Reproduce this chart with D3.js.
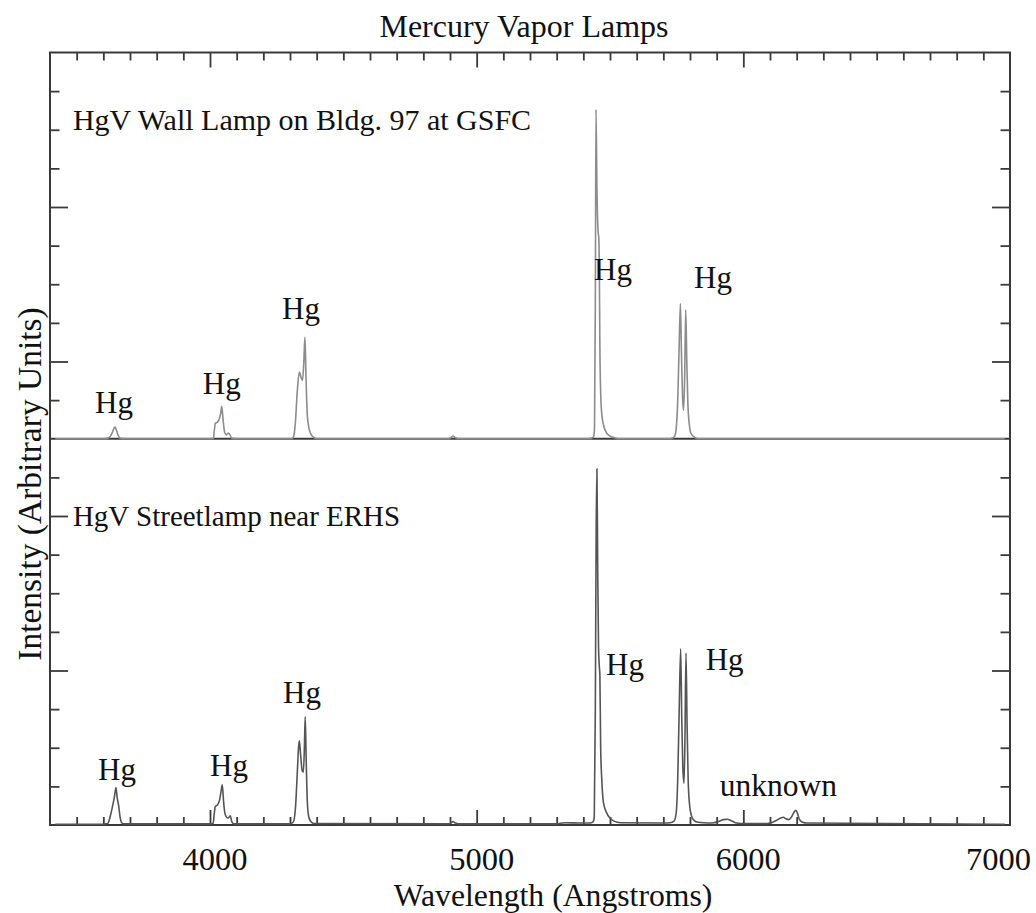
<!DOCTYPE html>
<html>
<head>
<meta charset="utf-8">
<script src="https://cdn.jsdelivr.net/npm/d3@7"></script>
<style>
  html, body { margin: 0; padding: 0; background: #ffffff; }
  svg { display: block; }
  text { font-family: "Liberation Serif", "Times New Roman", serif; fill: #111; }
</style>
</head>
<body>
<svg id="chart" width="1036" height="913"></svg>
<script>
// Wall lamp on Bldg. 97 (upper panel): wavelength (Angstroms) and intensity
const wallWavelength = [
  3420, 3600, 3615, 3625, 3633, 3640, 3644, 3649, 3655, 3662, 3675,
  4005, 4013, 4016, 4020, 4028, 4035, 4040, 4044, 4049, 4055, 4062, 4069, 4075, 4082, 4095,
  4305, 4313, 4320, 4327, 4335, 4341, 4347, 4352, 4356, 4360, 4365, 4372, 4380, 4392, 4402,
  4895, 4905, 4911, 4920, 4932,
  5420, 5432, 5439, 5442, 5445, 5447.5, 5451, 5455, 5458, 5460, 5462, 5465, 5469, 5476, 5487, 5500, 5515, 5530,
  5725, 5735, 5742, 5748, 5754, 5759, 5764, 5768, 5772, 5776, 5780, 5784, 5788, 5792, 5797, 5803, 5815, 5830,
  6980
];
const wallIntensity = [
  0, 0, 0.01, 0.05, 0.15, 0.27, 0.30, 0.22, 0.10, 0.02, 0,
  0, 0.01, 0.2, 0.4, 0.43, 0.52, 0.65, 0.84, 0.5, 0.16, 0.1, 0.15, 0.1, 0.01, 0,
  0, 0.05, 0.4, 1.2, 1.73, 1.6, 1.51, 2.0, 2.63, 1.6, 0.6, 0.25, 0.1, 0.02, 0,
  0, 0.04, 0.07, 0.03, 0,
  0, 0.02, 0.06, 0.3, 3.5, 8.52, 6.5, 5.4, 5.2, 4.4, 2.4, 1.2, 0.65, 0.35, 0.15, 0.07, 0.03, 0,
  0, 0.02, 0.06, 0.25, 1.0, 2.3, 3.5, 2.2, 1.1, 0.73, 1.6, 3.34, 2.0, 0.9, 0.4, 0.15, 0.05, 0,
  0
];

// Streetlamp near ERHS (lower panel)
const streetWavelength = [
  3420, 3600, 3610, 3618, 3625, 3635, 3642, 3647.5, 3652, 3657, 3663, 3670, 3680,
  4005, 4012, 4016, 4020, 4028, 4036, 4041, 4046, 4051, 4056, 4062, 4068, 4076, 4082, 4090,
  4300, 4312, 4320, 4327, 4332, 4335, 4340, 4346, 4350, 4354, 4357, 4361, 4365, 4370, 4378, 4390,
  4895, 4905, 4911, 4920, 4932,
  5300, 5330, 5400, 5425, 5436, 5441, 5445, 5448, 5451, 5454, 5457, 5460, 5462, 5465, 5469, 5475, 5487, 5500, 5515, 5540,
  5700, 5725, 5740, 5748, 5754, 5759, 5765, 5769, 5773, 5777.5, 5781, 5785, 5789, 5793, 5798, 5805, 5815, 5830,
  5870, 5890, 5910, 5925, 5940, 5955, 5970, 5990,
  6090, 6110, 6125, 6140, 6150, 6160, 6170, 6180, 6190, 6197, 6203, 6210, 6220, 6240,
  6980
];
const streetIntensity = [
  0.02, 0.02, 0.03, 0.05, 0.2, 0.5, 0.75, 0.97, 0.7, 0.52, 0.2, 0.05, 0.03,
  0.03, 0.05, 0.3, 0.48, 0.52, 0.65, 0.85, 1.04, 0.6, 0.3, 0.2, 0.18, 0.24, 0.08, 0.03,
  0.03, 0.07, 0.4, 1.3, 2.0, 2.18, 1.8, 1.4, 1.37, 2.0, 2.8, 1.6, 0.6, 0.22, 0.09, 0.04,
  0.03, 0.06, 0.09, 0.05, 0.03,
  0.03, 0.06, 0.05, 0.05, 0.08, 0.2, 3.0, 7.5, 9.22, 6.5, 4.6, 4.1, 3.9, 2.0, 1.2, 0.6, 0.32, 0.18, 0.1, 0.06,
  0.05, 0.06, 0.1, 0.3, 1.2, 2.8, 4.56, 2.8, 1.5, 1.08, 2.2, 4.45, 2.6, 1.2, 0.55, 0.25, 0.12, 0.07,
  0.05, 0.06, 0.1, 0.14, 0.15, 0.11, 0.06, 0.04,
  0.04, 0.07, 0.12, 0.18, 0.2, 0.16, 0.14, 0.2, 0.33, 0.38, 0.3, 0.15, 0.08, 0.05,
  0.02
];

// Line identifications (anchored at wavelength / intensity level of each panel)
const wallLabels = ["HgV Wall Lamp on Bldg. 97 at GSFC", "Hg", "Hg", "Hg", "Hg", "Hg"];
const wallLabelWavelength = [3486, 3569, 3973, 4270, 5440, 5815];
const wallLabelLevel = [8.0, 0.67, 1.16, 3.1, 4.1, 3.9];

const streetLabels = ["HgV Streetlamp near ERHS", "Hg", "Hg", "Hg", "Hg", "Hg", "unknown"];
const streetLabelWavelength = [3486, 3580, 4000, 4274, 5485, 5859, 5912];
const streetLabelLevel = [7.75, 1.17, 1.27, 3.16, 3.88, 4.01, 0.75];

const xTickLabels = [4000, 5000, 6000, 7000];
const xMinorTicks = d3.range(3500, 7000, 100);
const yMinorTicks = d3.range(1, 20, 1);
const yMajorTicks = [4, 8, 12, 16];

const titleText = "Mercury Vapor Lamps";
const xTitle = "Wavelength (Angstroms)";
const yTitle = "Intensity (Arbitrary Units)";

(function draw() {
  // ---- layout ----
  const W = 1036;
  const plotLeft = 50, plotRight = 1010, plotTop = 52.5, plotBottom = 825;
  const svg = d3.select("#chart");

  const x = d3.scaleLinear().domain([3400, 7000]).range([plotLeft, plotRight]);
  const yAll = d3.scaleLinear().domain([0, 20]).range([plotBottom, plotTop]);
  const yWall = d3.scaleLinear().domain([0, 10]).range([yAll(10), yAll(20)]);
  const yStreet = d3.scaleLinear().domain([0, 10]).range([yAll(0), yAll(10)]);

  const axisColor = "#3a3a3a";

  // frame
  svg.append("rect")
    .attr("x", plotLeft).attr("y", plotTop)
    .attr("width", plotRight - plotLeft).attr("height", plotBottom - plotTop)
    .attr("fill", "none").attr("stroke", axisColor).attr("stroke-width", 2);

  // inward ticks on all four sides
  function styleAxis(g) {
    g.select(".domain").remove();
    g.selectAll(".tick line").attr("stroke", axisColor).attr("stroke-width", 1.8);
    g.selectAll(".tick text").remove();
  }
  const xMajor = xTickLabels.filter(v => v < 7000);
  const xMinor = xMinorTicks.filter(v => !xMajor.includes(v));
  const yMinor = yMinorTicks.filter(v => !yMajorTicks.includes(v) && v !== 10);

  svg.append("g").attr("transform", `translate(0,${plotTop})`)
    .call(d3.axisBottom(x).tickValues(xMinor).tickSize(8)).call(styleAxis);
  svg.append("g").attr("transform", `translate(0,${plotTop})`)
    .call(d3.axisBottom(x).tickValues(xMajor).tickSize(15)).call(styleAxis);
  svg.append("g").attr("transform", `translate(0,${plotBottom})`)
    .call(d3.axisTop(x).tickValues(xMinor).tickSize(8)).call(styleAxis);
  svg.append("g").attr("transform", `translate(0,${plotBottom})`)
    .call(d3.axisTop(x).tickValues(xMajor).tickSize(15)).call(styleAxis);

  svg.append("g").attr("transform", `translate(${plotLeft},0)`)
    .call(d3.axisRight(yAll).tickValues(yMinor).tickSize(9.5)).call(styleAxis);
  svg.append("g").attr("transform", `translate(${plotLeft},0)`)
    .call(d3.axisRight(yAll).tickValues(yMajorTicks).tickSize(18)).call(styleAxis);
  svg.append("g").attr("transform", `translate(${plotRight},0)`)
    .call(d3.axisLeft(yAll).tickValues(yMinor).tickSize(9.5)).call(styleAxis);
  svg.append("g").attr("transform", `translate(${plotRight},0)`)
    .call(d3.axisLeft(yAll).tickValues(yMajorTicks).tickSize(18)).call(styleAxis);

  // panel divider
  svg.append("line")
    .attr("x1", plotLeft).attr("x2", plotRight)
    .attr("y1", yAll(10)).attr("y2", yAll(10))
    .attr("stroke", axisColor).attr("stroke-width", 1.8);

  // spectra
  const wallPts = wallWavelength.map((w, i) => [w, wallIntensity[i]]);
  const streetPts = streetWavelength.map((w, i) => [w, streetIntensity[i]]);

  svg.append("path")
    .datum(wallPts)
    .attr("fill", "none").attr("stroke", "#8c8c8c").attr("stroke-width", 1.6)
    .attr("stroke-linejoin", "round")
    .attr("d", d3.line().x(d => x(d[0])).y(d => yWall(d[1])).curve(d3.curveMonotoneX));

  svg.append("path")
    .datum(streetPts)
    .attr("fill", "none").attr("stroke", "#555555").attr("stroke-width", 1.6)
    .attr("stroke-linejoin", "round")
    .attr("d", d3.line().x(d => x(d[0])).y(d => yStreet(d[1])).curve(d3.curveMonotoneX));

  // annotations (first entry of each list is the panel caption)
  wallLabels.forEach((t, i) => {
    svg.append("text")
      .attr("x", x(wallLabelWavelength[i])).attr("y", yWall(wallLabelLevel[i]))
      .attr("font-size", i === 0 ? 30 : 31).text(t);
  });
  streetLabels.forEach((t, i) => {
    svg.append("text")
      .attr("x", x(streetLabelWavelength[i])).attr("y", yStreet(streetLabelLevel[i]))
      .attr("font-size", i === 0 ? 29 : (t === "unknown" ? 31.5 : 31)).text(t);
  });

  // x tick labels, kept inside the canvas
  svg.append("g").selectAll("text")
    .data(xTickLabels).join("text")
    .attr("y", 870)
    .attr("text-anchor", "middle").attr("font-size", 32.5)
    .text(d => d)
    .attr("x", function (d) {
      const half = this.getComputedTextLength() / 2;
      return Math.min(x(d) + 5, W - half - 5);
    });

  // titles
  svg.append("text")
    .attr("x", 524).attr("y", 37)
    .attr("text-anchor", "middle").attr("font-size", 32)
    .text(titleText);

  svg.append("text")
    .attr("x", 553).attr("y", 906)
    .attr("text-anchor", "middle").attr("font-size", 31.7)
    .text(xTitle);

  svg.append("text")
    .attr("transform", "translate(41,484) rotate(-90)")
    .attr("text-anchor", "middle").attr("font-size", 33.5)
    .text(yTitle);
})();
</script>
</body>
</html>
